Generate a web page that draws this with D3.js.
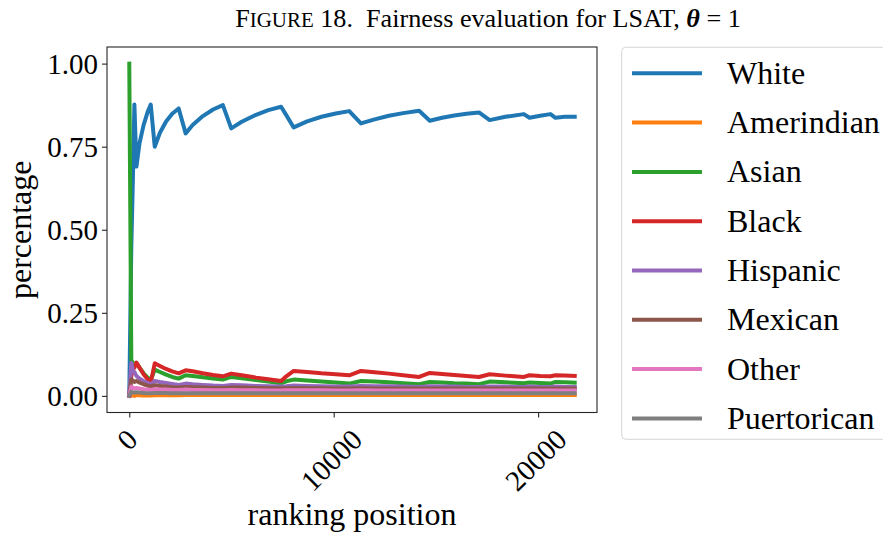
<!DOCTYPE html>
<html>
<head>
<meta charset="utf-8">
<script src="https://cdn.jsdelivr.net/npm/d3@7"></script>
<style>
  body { margin: 0; background: #fff; }
  text { font-family: "Liberation Serif", "Times New Roman", serif; fill: #000; }
</style>
</head>
<body>
<svg id="chart" width="883" height="538"></svg>
<script>
// ranking positions where the curves are sampled
var ranks = [0, 100, 180, 250, 350, 500, 700, 900, 1050, 1245,
    1500, 1800, 2100, 2416, 2758, 3100, 3600, 4100, 4578, 4988,
    5500, 6200, 6800, 7428, 7680, 8043, 8700, 9400, 10100, 10761,
    11332, 12000, 12700, 13400, 14178, 14700, 15300, 15900, 16500, 17106,
    17628, 18400, 19302, 19580, 20100, 20605, 20849, 21300, 21791];

var categories = ['White', 'Amerindian', 'Asian', 'Black', 'Hispanic', 'Mexican', 'Other', 'Puertorican'];

var white = [0, 0.45, 0.66, 0.877, 0.69, 0.76, 0.815, 0.855, 0.877, 0.75,
    0.792, 0.826, 0.849, 0.865, 0.79, 0.815, 0.842, 0.862, 0.875, 0.805,
    0.825, 0.846, 0.86, 0.87, 0.845, 0.808, 0.826, 0.84, 0.85, 0.857,
    0.82, 0.832, 0.843, 0.851, 0.858, 0.828, 0.837, 0.844, 0.849, 0.853,
    0.83, 0.84, 0.848, 0.837, 0.843, 0.848, 0.837, 0.840, 0.840];
var amerindian = [0, 0, 0.003, 0, 0.003, 0.002, 0.001, 0.001, 0.001, 0.002,
    0.002, 0.002, 0.002, 0.002, 0.003, 0.003, 0.003, 0.003, 0.003, 0.003,
    0.003, 0.003, 0.003, 0.003, 0.003, 0.003, 0.003, 0.003, 0.003, 0.003,
    0.003, 0.003, 0.003, 0.003, 0.003, 0.003, 0.003, 0.003, 0.003, 0.003,
    0.003, 0.003, 0.003, 0.003, 0.003, 0.003, 0.003, 0.003, 0.003];
var asian = [1.0, 0.107, 0.1, 0.09, 0.099, 0.085, 0.068, 0.055, 0.047, 0.079,
    0.072, 0.064, 0.057, 0.052, 0.062, 0.06, 0.056, 0.052, 0.049, 0.057,
    0.053, 0.048, 0.043, 0.038, 0.044, 0.049, 0.046, 0.043, 0.04, 0.037,
    0.045, 0.043, 0.041, 0.038, 0.035, 0.042, 0.04, 0.038, 0.037, 0.035,
    0.043, 0.041, 0.038, 0.04, 0.039, 0.037, 0.042, 0.041, 0.04];
var black = [0, 0.06, 0.08, 0.085, 0.10, 0.085, 0.065, 0.05, 0.04, 0.098,
    0.09, 0.081, 0.074, 0.068, 0.077, 0.074, 0.068, 0.063, 0.059, 0.067,
    0.062, 0.055, 0.05, 0.045, 0.059, 0.075, 0.072, 0.068, 0.065, 0.062,
    0.075, 0.071, 0.067, 0.062, 0.057, 0.069, 0.066, 0.063, 0.06, 0.057,
    0.065, 0.061, 0.057, 0.062, 0.06, 0.059, 0.062, 0.061, 0.06];
var hispanic = [0, 0.10, 0.075, 0.072, 0.06, 0.052, 0.045, 0.039, 0.035, 0.045,
    0.042, 0.039, 0.036, 0.033, 0.037, 0.035, 0.033, 0.031, 0.03, 0.033,
    0.032, 0.03, 0.029, 0.028, 0.029, 0.031, 0.03, 0.029, 0.028, 0.028,
    0.03, 0.029, 0.029, 0.028, 0.027, 0.029, 0.028, 0.028, 0.027, 0.027,
    0.028, 0.028, 0.027, 0.028, 0.027, 0.027, 0.028, 0.027, 0.027];
var mexican = [0, 0.05, 0.045, 0.042, 0.045, 0.04, 0.035, 0.031, 0.028, 0.032,
    0.03, 0.028, 0.026, 0.025, 0.027, 0.026, 0.025, 0.024, 0.024, 0.025,
    0.025, 0.024, 0.023, 0.023, 0.023, 0.024, 0.023, 0.023, 0.022, 0.022,
    0.023, 0.022, 0.022, 0.022, 0.022, 0.022, 0.022, 0.022, 0.022, 0.022,
    0.022, 0.022, 0.022, 0.022, 0.022, 0.022, 0.022, 0.022, 0.022];
var other = [0, 0.028, 0.025, 0.022, 0.024, 0.022, 0.02, 0.019, 0.018, 0.02,
    0.019, 0.019, 0.018, 0.018, 0.019, 0.018, 0.018, 0.017, 0.017, 0.018,
    0.017, 0.017, 0.016, 0.016, 0.017, 0.017, 0.017, 0.017, 0.016, 0.016,
    0.017, 0.016, 0.016, 0.016, 0.016, 0.016, 0.016, 0.016, 0.016, 0.016,
    0.016, 0.016, 0.016, 0.016, 0.016, 0.016, 0.016, 0.016, 0.016];
var puertorican = [0, 0.012, 0.01, 0.01, 0.011, 0.01, 0.009, 0.008, 0.008, 0.009,
    0.009, 0.009, 0.008, 0.008, 0.008, 0.008, 0.008, 0.008, 0.008, 0.008,
    0.008, 0.008, 0.008, 0.008, 0.008, 0.008, 0.008, 0.008, 0.008, 0.008,
    0.008, 0.008, 0.008, 0.008, 0.008, 0.008, 0.008, 0.008, 0.008, 0.008,
    0.008, 0.008, 0.008, 0.008, 0.008, 0.008, 0.008, 0.008, 0.008];

var yTicks = [0, 0.25, 0.5, 0.75, 1.0];
var xTicks = [0, 10000, 20000];

var colors = ['#1f77b4', '#ff7f0e', '#2ca02c', '#d62728', '#9467bd', '#8c564b', '#e377c2', '#7f7f7f'];
var values = [white, amerindian, asian, black, hispanic, mexican, other, puertorican];

var series = categories.map(function (name, i) {
    return {
        name: name,
        color: colors[i],
        points: ranks.map(function (r, j) { return [r, values[i][j]]; })
    };
});

var svg = d3.select('#chart');
var plotL = 107, plotR = 597, plotT = 47, plotB = 412.5;

var xMax = d3.max(ranks);
var x = d3.scaleLinear()
        .domain([-0.05 * xMax, 1.05 * xMax])
        .range([plotL, plotR]);
var y = d3.scaleLinear()
        .domain([-0.05, 1.05])
        .range([plotB, plotT]);

// title, small caps on FIGURE
var title = svg.append('text')
        .attr('x', 488)
        .attr('y', 27)
        .attr('text-anchor', 'middle')
        .attr('font-size', 26);
title.append('tspan').text('F');
title.append('tspan').attr('font-size', '0.8em').text('IGURE');
title.append('tspan').text(' 18.\u00a0 Fairness evaluation for LSAT, ');
title.append('tspan').attr('font-style', 'italic').attr('font-weight', 'bold').text('\u03b8');
title.append('tspan').text(' = 1');
var tw = title.node().getComputedTextLength();
title.attr('font-size', 26 * 506 / tw);

// lines
svg.append('clipPath').attr('id', 'clip')
        .append('rect')
        .attr('x', plotL).attr('y', plotT)
        .attr('width', plotR - plotL).attr('height', plotB - plotT);

var line = d3.line()
        .x(function (d) { return x(d[0]); })
        .y(function (d) { return y(d[1]); });

svg.append('g')
        .attr('clip-path', 'url(#clip)')
        .selectAll('path')
        .data(series)
        .enter()
        .append('path')
        .attr('d', function (d) { return line(d.points); })
        .attr('fill', 'none')
        .attr('stroke', function (d) { return d.color; })
        .attr('stroke-width', 4)
        .attr('stroke-linejoin', 'round')
        .attr('stroke-linecap', 'square');

// frame
svg.append('rect')
        .attr('x', plotL).attr('y', plotT)
        .attr('width', plotR - plotL).attr('height', plotB - plotT)
        .attr('fill', 'none')
        .attr('stroke', '#262626')
        .attr('stroke-width', 1.1);

// y axis
var yAxis = svg.append('g')
        .attr('transform', 'translate(' + plotL + ',0)')
        .call(d3.axisLeft(y).tickValues(yTicks).tickFormat(d3.format('.2f')).tickSize(5).tickPadding(4));
yAxis.select('.domain').remove();
yAxis.selectAll('line').attr('stroke', '#262626').attr('stroke-width', 1.1);
yAxis.selectAll('text')
        .attr('font-family', '"Liberation Serif", serif')
        .attr('font-size', 29)
        .attr('dy', '0.33em');

// x axis
var xAxis = svg.append('g')
        .attr('transform', 'translate(0,' + plotB + ')')
        .call(d3.axisBottom(x).tickValues(xTicks).tickFormat(d3.format('d')).tickSize(5));
xAxis.select('.domain').remove();
xAxis.selectAll('line').attr('stroke', '#262626').attr('stroke-width', 1.1);
xAxis.selectAll('text').remove();

var fs = 29;
svg.append('g')
        .selectAll('text')
        .data(xTicks)
        .enter()
        .append('text')
        .attr('font-size', fs)
        .attr('text-anchor', 'middle')
        .attr('dy', '0.33em')
        .text(function (d) { return d; })
        .attr('transform', function (d) {
            var L = this.getComputedTextLength();
            var half = (L + 0.66 * fs) / (2 * Math.SQRT2);
            return 'translate(' + (x(d) - 2) + ',' + (428 + half) + ') rotate(-45)';
        });

// axis labels
svg.append('text')
        .attr('x', (plotL + plotR) / 2)
        .attr('y', 525)
        .attr('text-anchor', 'middle')
        .attr('font-size', 32)
        .text('ranking position');

svg.append('text')
        .attr('transform', 'translate(31,' + ((plotT + plotB) / 2) + ') rotate(-90)')
        .attr('text-anchor', 'middle')
        .attr('font-size', 32)
        .text('percentage');

// legend
svg.append('rect')
        .attr('x', 621.7).attr('y', 47.3)
        .attr('width', 290).attr('height', 392)
        .attr('rx', 4)
        .attr('fill', '#fff')
        .attr('stroke', '#d6d6d6')
        .attr('stroke-width', 1);

var items = svg.append('g')
        .selectAll('g')
        .data(series)
        .enter()
        .append('g')
        .attr('transform', function (d, i) { return 'translate(0,' + (73.3 + i * 49.3) + ')'; });

items.append('line')
        .attr('x1', 632).attr('x2', 702)
        .attr('stroke', function (d) { return d.color; })
        .attr('stroke-width', 4);

items.append('text')
        .attr('x', 727)
        .attr('y', 10.5)
        .attr('font-size', 32)
        .text(function (d) { return d.name; });
</script>
</body>
</html>
